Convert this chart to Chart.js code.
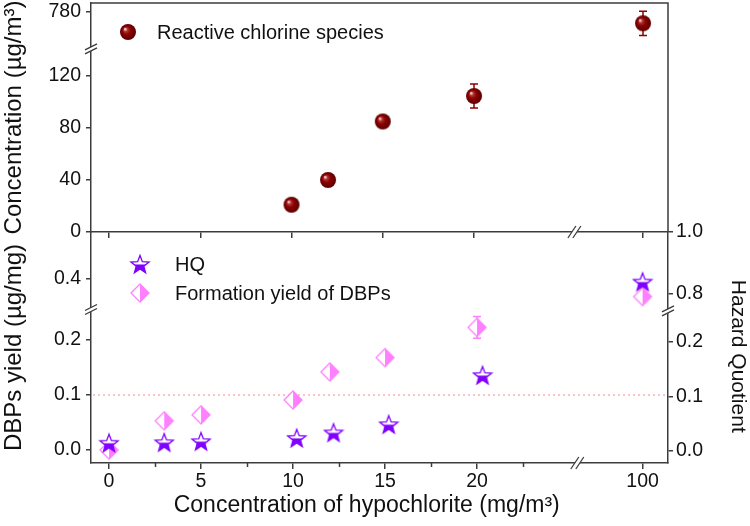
<!DOCTYPE html>
<html>
<head>
<meta charset="utf-8">
<script src="https://cdn.jsdelivr.net/npm/chart.js@4.4.1/dist/chart.umd.min.js"></script>
<style>
  html, body { margin: 0; padding: 0; background: #fff; }
  #wrap { position: relative; width: 750px; height: 526px; }
  #wrap canvas { position: absolute; left: 0; top: 0; }
</style>
</head>
<body>
<div id="wrap">
  <canvas id="topPanel" width="750" height="526"></canvas>
  <canvas id="bottomPanel" width="750" height="526"></canvas>
</div>
<script>
"use strict";

// ---- data ----
var rcsDose = [10, 12, 15, 20, 100];
var rcsConc = [21, 40, 85, 104.6, 755];
var rcsErr = [1.5, 1.5, 2, 9.2, 27];

var dbpDose = [0, 3, 5, 10, 12, 15, 20, 100];
var dbpYield = [0.0, 0.053, 0.064, 0.091, 0.142, 0.168, 0.223, 0.368];
var dbpErr = [0, 0, 0, 0, 0, 0, 0.0196, 0];

var hqDose = [0, 3, 5, 10.2, 12.2, 15.2, 20.3, 100];
var hqValue = [0.015, 0.016, 0.018, 0.024, 0.034, 0.049, 0.139, 0.84];

var doseTicks = [0, 5, 10, 15, 20, 100];
var doseMinorTicks = [2.5, 7.5, 12.5, 17.5, 22.5];
var concTicks = [0, 40, 80, 120, 780];
var yieldTicks = [0, 0.1, 0.2, 0.4];
var hqTicks = [0, 0.1, 0.2, 0.8, 1.0];
var dbpRefLevel = 0.1;

var AXIS = '#3c3c3c';
var TEXT = '#111';
var FONT = "'Liberation Sans', Arial, sans-serif";
var RED = '#8b0000', PURPLE = '#7f00ff', PINK = '#ff80ff';

Chart.defaults.font.family = FONT;
Chart.defaults.color = TEXT;

// axis breaks: below `at` the scale is plain linear, above it values are moved
// into the segment after the break (to + (v - from) * k). `mark` = where the // sits
var axisBreaks = {
  xTop:   { at: 50,  from: 100, to: 29.26, k: 1,      mark: 25.5,   vertical: false },
  yTop:   { at: 400, from: 700, to: 141.5, k: 0.3462, mark: 140.8,  vertical: true },
  xBot:   { at: 50,  from: 100, to: 29.0,  k: 1,      mark: 25.45,  vertical: false },
  yLeft:  { at: 0.3, from: 0.4, to: 0.311, k: 1,      mark: 0.2555, vertical: true },
  yRight: { at: 0.5, from: 0.8, to: 0.2875, k: 0.5678, mark: 0.2565, vertical: true }
};

function toVirtual(id, v) {
  var b = axisBreaks[id];
  if (!b || v <= b.at) return v;
  return b.to + (v - b.from) * b.k;
}

class BrokenLinearScale extends Chart.LinearScale {
  getPixelForValue(value) {
    if (value === null || value === undefined) return NaN;
    return super.getPixelForValue(toVirtual(this.id, value));
  }
  getPixelForVirtual(v) {
    return super.getPixelForValue(v);
  }
}
BrokenLinearScale.id = 'brokenLinear';
BrokenLinearScale.defaults = Chart.LinearScale.defaults;
Chart.register(BrokenLinearScale);

// ---- marker images ----
function sphereImg(r, color) {
  var c = document.createElement('canvas');
  c.width = c.height = 2 * r + 2;
  var g = c.getContext('2d');
  var cx = r + 1, cy = r + 1;
  var grad = g.createRadialGradient(cx - r * 0.38, cy - r * 0.38, r * 0.05, cx, cy, r);
  grad.addColorStop(0, '#f6dada');
  grad.addColorStop(0.22, '#b03030');
  grad.addColorStop(0.5, color);
  grad.addColorStop(1, '#5a0000');
  g.fillStyle = grad;
  g.beginPath();
  g.arc(cx, cy, r, 0, Math.PI * 2);
  g.fill();
  return c;
}

function halfStarImg(size, R, color) {
  var c = document.createElement('canvas');
  c.width = c.height = size;
  var g = c.getContext('2d');
  var cx = size / 2, cy = size / 2 + R * 0.1, r = R * 0.42;
  g.beginPath();
  for (var i = 0; i < 10; i++) {
    var a = -Math.PI / 2 + i * Math.PI / 5;
    var rr = i % 2 ? r : R;
    g.lineTo(cx + rr * Math.cos(a), cy + rr * Math.sin(a));
  }
  g.closePath();
  g.fillStyle = '#fff';
  g.fill();
  g.save();
  g.clip();
  g.fillStyle = color;
  g.fillRect(0, cy - R * 0.05, size, size);
  g.restore();
  g.lineWidth = 1.3;
  g.strokeStyle = color;
  g.stroke();
  return c;
}

function halfDiamondImg(size, h, color) {
  var c = document.createElement('canvas');
  c.width = c.height = size;
  var g = c.getContext('2d');
  var cx = size / 2, cy = size / 2;
  g.beginPath();
  g.moveTo(cx, cy - h); g.lineTo(cx + h, cy); g.lineTo(cx, cy + h); g.lineTo(cx - h, cy);
  g.closePath();
  g.fillStyle = '#fff';
  g.fill();
  g.beginPath();
  g.moveTo(cx, cy - h); g.lineTo(cx + h, cy); g.lineTo(cx, cy + h);
  g.closePath();
  g.fillStyle = color;
  g.fill();
  g.beginPath();
  g.moveTo(cx, cy - h); g.lineTo(cx + h, cy); g.lineTo(cx, cy + h); g.lineTo(cx - h, cy);
  g.closePath();
  g.lineWidth = 1.3;
  g.strokeStyle = color;
  g.stroke();
  return c;
}

var sphere = sphereImg(8, RED);
var star = halfStarImg(22, 9.5, PURPLE);
var diamond = halfDiamondImg(22, 9, PINK);

// ---- helpers ----
function points(xs, ys) {
  return xs.map(function(x, i) { return { x: x, y: ys[i] }; });
}

function axis(o) {
  var vertical = o.position === 'left' || o.position === 'right';
  return {
    type: 'brokenLinear',
    position: o.position,
    min: o.min,
    max: o.max,
    bounds: 'data',
    afterBuildTicks: function(s) {
      s.ticks = o.ticks.map(function(v) { return { value: v }; });
    },
    afterFit: function(s) {
      if (vertical) s.width = o.size; else s.height = o.size;
      // chart area edges are fixed by layout padding, not by label overhang
      s.paddingTop = s.paddingBottom = s.paddingLeft = s.paddingRight = 0;
    },
    grid: { drawOnChartArea: false, drawTicks: true, tickLength: o.tickLength || 5, color: AXIS, lineWidth: 1.5 },
    border: { display: true, color: AXIS, width: 1.5 },
    ticks: { autoSkip: false, maxRotation: 0, padding: o.pad, font: { size: 19.5 }, color: TEXT, callback: o.fmt },
    title: o.title
      ? { display: true, text: o.title, color: TEXT, font: { size: o.titleSize || 24 }, padding: o.titlePad || 0 }
      : { display: false }
  };
}

function fmt1(v) { return v.toFixed(1); }
function fmt0(v) { return String(v); }
function blank() { return ''; }

var errorBarPlugin = {
  id: 'errorBars',
  beforeDatasetsDraw: function(chart) {
    var ctx = chart.ctx;
    chart.data.datasets.forEach(function(ds, di) {
      if (!ds.errorBars) return;
      var meta = chart.getDatasetMeta(di);
      var ys = chart.scales[ds.yAxisID];
      ctx.save();
      ctx.strokeStyle = ds.errorColor;
      ctx.lineWidth = 1.5;
      meta.data.forEach(function(pt, i) {
        var e = ds.errorBars[i];
        if (!e) return;
        var v = ds.data[i].y;
        var top = ys.getPixelForValue(v + e), bot = ys.getPixelForValue(v - e);
        var w = 4;
        ctx.beginPath();
        ctx.moveTo(pt.x, top); ctx.lineTo(pt.x, bot);
        ctx.moveTo(pt.x - w, top); ctx.lineTo(pt.x + w, top);
        ctx.moveTo(pt.x - w, bot); ctx.lineTo(pt.x + w, bot);
        ctx.stroke();
      });
      ctx.restore();
    });
  }
};

function drawBreak(ctx, x, y, vertical) {
  var dx, dy, ox, oy;
  if (vertical) { dx = 6; dy = -3; ox = 0; oy = 4; }
  else { dx = 4; dy = -6; ox = 5; oy = 0; }
  ctx.save();
  ctx.fillStyle = '#fff';
  ctx.beginPath();
  ctx.moveTo(x - dx - ox / 2, y - dy - oy / 2);
  ctx.lineTo(x + dx - ox / 2, y + dy - oy / 2);
  ctx.lineTo(x + dx + ox / 2, y + dy + oy / 2);
  ctx.lineTo(x - dx + ox / 2, y - dy + oy / 2);
  ctx.closePath();
  ctx.fill();
  ctx.strokeStyle = AXIS;
  ctx.lineWidth = 1.3;
  [-1, 1].forEach(function(s) {
    ctx.beginPath();
    ctx.moveTo(x - dx + s * ox / 2, y - dy + s * oy / 2);
    ctx.lineTo(x + dx + s * ox / 2, y + dy + s * oy / 2);
    ctx.stroke();
  });
  ctx.restore();
}

var breakPlugin = {
  id: 'breakMarks',
  afterDraw: function(chart) {
    Object.keys(chart.scales).forEach(function(id) {
      var b = axisBreaks[id];
      if (!b) return;
      var s = chart.scales[id];
      var p = s.getPixelForVirtual(b.mark);
      if (b.vertical) {
        var x = s.position === 'left' ? s.right : s.left;
        drawBreak(chart.ctx, x, p, true);
      } else {
        drawBreak(chart.ctx, p, s.top, false);
      }
    });
  }
};

var framePlugin = {
  id: 'frame',
  afterDraw: function(chart) {
    var a = chart.chartArea, ctx = chart.ctx;
    ctx.save();
    ctx.strokeStyle = AXIS;
    ctx.lineWidth = 1.5;
    ctx.beginPath();
    ctx.moveTo(a.left, a.top); ctx.lineTo(a.right, a.top); ctx.lineTo(a.right, a.bottom);
    ctx.stroke();
    ctx.restore();
  }
};

var minorTickPlugin = {
  id: 'minorTicks',
  afterDraw: function(chart) {
    var s = chart.scales.xBot, ctx = chart.ctx;
    ctx.save();
    ctx.strokeStyle = AXIS;
    ctx.lineWidth = 1.5;
    doseMinorTicks.forEach(function(v) {
      var x = Math.round(s.getPixelForValue(v)) + 0.5;
      ctx.beginPath();
      ctx.moveTo(x, s.top); ctx.lineTo(x, s.top + 4);
      ctx.stroke();
    });
    ctx.restore();
  }
};

var refLinePlugin = {
  id: 'refLine',
  beforeDatasetsDraw: function(chart) {
    var a = chart.chartArea, ctx = chart.ctx;
    var y = chart.scales.yLeft.getPixelForValue(dbpRefLevel);
    ctx.save();
    ctx.strokeStyle = '#f58a8a';
    ctx.lineWidth = 1.2;
    ctx.setLineDash([2, 3]);
    ctx.beginPath();
    ctx.moveTo(a.left + 2, y); ctx.lineTo(a.right - 2, y);
    ctx.stroke();
    ctx.restore();
  }
};

function legendPlugin(items) {
  return {
    id: 'markerLegend',
    afterDraw: function(chart) {
      var ctx = chart.ctx;
      ctx.save();
      ctx.font = '20px ' + FONT;
      ctx.fillStyle = TEXT;
      ctx.textBaseline = 'middle';
      ctx.textAlign = 'left';
      items.forEach(function(it) {
        var ds = chart.data.datasets[it.dataset];
        var img = ds.pointStyle;
        ctx.drawImage(img, it.x - img.width / 2, it.y - img.height / 2);
        ctx.fillText(ds.label, it.tx, it.y + 1);
      });
      ctx.restore();
    }
  };
}

var common = {
  responsive: false,
  animation: false,
  devicePixelRatio: 1,
  events: [],
  plugins: { legend: { display: false }, tooltip: { enabled: false } }
};

// ---- top panel: reactive chlorine species ----
new Chart(document.getElementById('topPanel'), {
  type: 'scatter',
  data: {
    datasets: [{
      label: 'Reactive chlorine species',
      data: points(rcsDose, rcsConc),
      errorBars: rcsErr,
      errorColor: RED,
      pointStyle: sphere,
      pointRadius: 8,
      xAxisID: 'xTop',
      yAxisID: 'yTop'
    }]
  },
  options: Object.assign({}, common, {
    layout: { autoPadding: false, padding: { left: 0, top: 3, right: 82, bottom: 0 } },
    scales: {
      xTop: axis({ position: 'bottom', min: -0.99, max: 30.63, ticks: doseTicks, fmt: blank, size: 294, tickLength: 6, pad: 1 }),
      yTop: axis({ position: 'left', min: 0, max: 176.15, ticks: concTicks, fmt: fmt0, size: 91, pad: 5,
                   title: 'Concentration (µg/m³)' })
    }
  }),
  plugins: [errorBarPlugin, framePlugin, breakPlugin,
            legendPlugin([{ dataset: 0, x: 128, y: 32, tx: 157 }])]
});

// ---- bottom panel: DBPs yield and hazard quotient ----
new Chart(document.getElementById('bottomPanel'), {
  type: 'scatter',
  data: {
    datasets: [{
      label: 'HQ',
      data: points(hqDose, hqValue),
      pointStyle: star,
      pointRadius: 10,
      xAxisID: 'xBot',
      yAxisID: 'yRight'
    }, {
      label: 'Formation yield of DBPs',
      data: points(dbpDose, dbpYield),
      errorBars: dbpErr,
      errorColor: PINK,
      pointStyle: diamond,
      pointRadius: 10,
      xAxisID: 'xBot',
      yAxisID: 'yLeft'
    }]
  },
  options: Object.assign({}, common, {
    layout: { autoPadding: false, padding: { left: 0, top: 232, right: 0, bottom: 0 } },
    scales: {
      xBot: axis({ position: 'bottom', min: -0.98, max: 30.38, ticks: doseTicks, fmt: fmt0, size: 63, tickLength: 6, pad: 1,
                   title: 'Concentration of hypochlorite (mg/m³)    ', titleSize: 23, titlePad: { top: 0, bottom: 7 } }),
      yLeft: axis({ position: 'left', min: -0.0236, max: 0.3964, ticks: yieldTicks, fmt: fmt1, size: 91, pad: 5,
                    title: 'DBPs yield (µg/mg)' }),
      yRight: axis({ position: 'right', min: -0.022, max: 0.401, ticks: hqTicks, fmt: fmt1, size: 82, pad: 3,
                     title: '   Hazard Quotient', titleSize: 21 })
    }
  }),
  plugins: [refLinePlugin, errorBarPlugin, minorTickPlugin, breakPlugin,
            legendPlugin([{ dataset: 0, x: 140, y: 264, tx: 175 }, { dataset: 1, x: 140, y: 293, tx: 175 }])]
});
</script>
</body>
</html>
